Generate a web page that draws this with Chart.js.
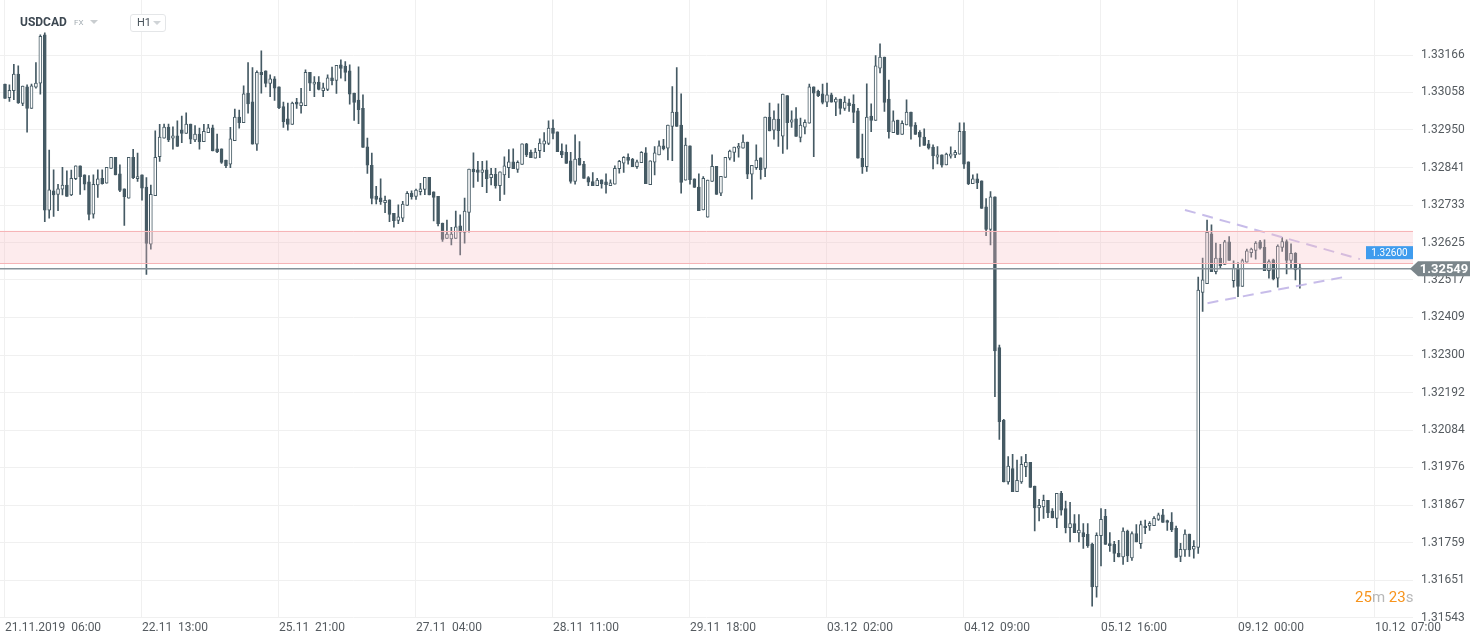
<!DOCTYPE html>
<html><head><meta charset="utf-8">
<script src="https://cdn.jsdelivr.net/npm/chart.js@4.4.1/dist/chart.umd.min.js"></script>
<style>
html,body{margin:0;padding:0;background:#fff;}
#wrap{position:relative;width:1482px;height:643px;overflow:hidden;}
#c{position:absolute;left:0;top:0;}
.t{position:absolute;font-family:Roboto,"Liberation Sans",sans-serif;white-space:nowrap;}
.tri{position:absolute;width:0;height:0;border-left:4px solid transparent;border-right:4px solid transparent;border-top:4px solid #c9cdd0;}
</style></head><body>
<div id="wrap">
<canvas id="c" width="1482" height="643"></canvas>
<div class="t" style="left:20px;top:15px;font-size:12px;font-weight:700;color:#3d4852;">USDCAD</div>
<div class="t" style="left:74px;top:18px;font-size:8px;color:#a4adb3;">FX</div>
<div class="tri" style="left:90px;top:20px;"></div>
<div style="position:absolute;left:130px;top:14px;width:34px;height:16px;border:1px solid #e4e6e8;border-radius:3px;background:#fff;"></div>
<div class="t" style="left:137px;top:16px;font-size:11px;color:#4a545c;">H1</div>
<div class="tri" style="left:153px;top:21px;border-top-color:#d0d4d7;"></div>
<div class="t" style="left:1355px;top:588px;font-size:15px;"><span style="color:#f7941d">25</span><span style="color:#b8b8b8">m </span><span style="color:#f7941d">23</span><span style="color:#b8b8b8">s</span></div>
</div>
<script>
// ---- DATA (USDCAD H1) ----
const opens = [1.33082,1.33043,1.33063,1.33111,1.33026,1.33074,1.33012,1.33073,1.33085,1.33224,1.32718,1.32774,1.32764,1.32779,1.32791,1.32762,1.32809,1.32846,1.32820,1.32800,1.32707,1.32791,1.32810,1.32796,1.32839,1.32871,1.32823,1.32780,1.32753,1.32871,1.32809,1.32820,1.32785,1.32620,1.32760,1.32873,1.32926,1.32958,1.32926,1.32933,1.32950,1.32940,1.32967,1.32921,1.32938,1.32916,1.32942,1.32956,1.32895,1.32895,1.32863,1.32851,1.32919,1.32987,1.32971,1.33056,1.33031,1.32909,1.33116,1.33120,1.33084,1.33097,1.33074,1.33017,1.32982,1.32966,1.33030,1.33020,1.33020,1.33116,1.33082,1.33088,1.33063,1.33067,1.33100,1.33093,1.33138,1.33134,1.33120,1.33056,1.33036,1.33012,1.32901,1.32848,1.32759,1.32754,1.32740,1.32748,1.32709,1.32689,1.32695,1.32732,1.32767,1.32758,1.32772,1.32778,1.32813,1.32771,1.32758,1.32681,1.32637,1.32635,1.32637,1.32673,1.32654,1.32712,1.32837,1.32835,1.32827,1.32835,1.32812,1.32822,1.32789,1.32820,1.32841,1.32858,1.32836,1.32850,1.32910,1.32885,1.32868,1.32890,1.32909,1.32911,1.32955,1.32944,1.32889,1.32885,1.32861,1.32801,1.32868,1.32851,1.32812,1.32801,1.32789,1.32806,1.32800,1.32789,1.32793,1.32838,1.32854,1.32871,1.32865,1.32844,1.32855,1.32884,1.32792,1.32857,1.32878,1.32904,1.32897,1.32960,1.33001,1.32964,1.32805,1.32904,1.32809,1.32785,1.32719,1.32698,1.32801,1.32845,1.32767,1.32813,1.32868,1.32885,1.32897,1.32897,1.32915,1.32822,1.32841,1.32869,1.32839,1.32987,1.32949,1.32981,1.32932,1.33049,1.32972,1.32982,1.32928,1.32958,1.32969,1.33074,1.33061,1.33054,1.33030,1.33051,1.33030,1.33039,1.33012,1.33028,1.33024,1.33005,1.32868,1.32844,1.32990,1.32977,1.33128,1.33160,1.33039,1.32942,1.32978,1.32937,1.32964,1.33001,1.32964,1.32943,1.32929,1.32910,1.32900,1.32871,1.32878,1.32849,1.32874,1.32878,1.32880,1.32946,1.32858,1.32795,1.32809,1.32803,1.32728,1.32663,1.32757,1.32322,1.32112,1.31934,1.31973,1.31906,1.31934,1.31978,1.31991,1.31922,1.31859,1.31862,1.31881,1.31850,1.31829,1.31901,1.31857,1.31802,1.31814,1.31787,1.31788,1.31783,1.31755,1.31631,1.31779,1.31835,1.31756,1.31754,1.31728,1.31718,1.31792,1.31715,1.31785,1.31756,1.31807,1.31807,1.31808,1.31826,1.31839,1.31823,1.31818,1.31800,1.31719,1.31738,1.31784,1.31740,1.31745,1.32481,1.32506,1.32650,1.32541,1.32580,1.32562,1.32627,1.32515,1.32551,1.32498,1.32568,1.32596,1.32602,1.32627,1.32611,1.32544,1.32575,1.32522,1.32611,1.32628,1.32573,1.32594,1.32551];
const highs = [1.33082,1.33080,1.33139,1.33135,1.33076,1.33080,1.33082,1.33144,1.33224,1.33230,1.32892,1.32835,1.32793,1.32842,1.32832,1.32834,1.32846,1.32846,1.32820,1.32818,1.32820,1.32835,1.32835,1.32842,1.32871,1.32871,1.32849,1.32780,1.32871,1.32894,1.32883,1.32820,1.32812,1.32791,1.32947,1.32966,1.32967,1.32967,1.32959,1.32976,1.32990,1.32999,1.32967,1.32962,1.32955,1.32966,1.32966,1.32964,1.32938,1.32895,1.32863,1.32957,1.33010,1.33007,1.33077,1.33144,1.33130,1.33120,1.33178,1.33120,1.33109,1.33104,1.33074,1.33030,1.33027,1.33030,1.33041,1.33070,1.33123,1.33116,1.33104,1.33104,1.33085,1.33109,1.33131,1.33136,1.33152,1.33147,1.33138,1.33056,1.33132,1.33051,1.32926,1.32883,1.32787,1.32809,1.32759,1.32748,1.32709,1.32734,1.32744,1.32772,1.32774,1.32779,1.32796,1.32813,1.32813,1.32771,1.32758,1.32681,1.32690,1.32669,1.32716,1.32705,1.32753,1.32837,1.32884,1.32859,1.32859,1.32861,1.32839,1.32839,1.32829,1.32872,1.32893,1.32895,1.32861,1.32910,1.32911,1.32892,1.32897,1.32924,1.32942,1.32976,1.32979,1.32944,1.32910,1.32907,1.32885,1.32936,1.32916,1.32859,1.32815,1.32827,1.32810,1.32806,1.32823,1.32806,1.32846,1.32862,1.32873,1.32881,1.32868,1.32863,1.32887,1.32899,1.32861,1.32902,1.32918,1.32923,1.32964,1.33075,1.33130,1.33054,1.32926,1.32904,1.32809,1.32823,1.32815,1.32805,1.32878,1.32845,1.32816,1.32871,1.32892,1.32900,1.32911,1.32936,1.32915,1.32848,1.32907,1.32869,1.32987,1.33027,1.33005,1.33025,1.33053,1.33049,1.33005,1.33014,1.32984,1.32979,1.33082,1.33074,1.33065,1.33082,1.33085,1.33056,1.33043,1.33039,1.33046,1.33039,1.33051,1.33012,1.32938,1.33083,1.33025,1.33164,1.33198,1.33160,1.33094,1.33005,1.32978,1.32976,1.33037,1.33001,1.32971,1.32948,1.32953,1.32920,1.32907,1.32902,1.32878,1.32883,1.32901,1.32891,1.32970,1.32970,1.32858,1.32820,1.32823,1.32803,1.32752,1.32772,1.32757,1.32329,1.32115,1.32007,1.32014,1.31997,1.32007,1.32014,1.31991,1.31922,1.31884,1.31896,1.31881,1.31857,1.31901,1.31907,1.31879,1.31875,1.31840,1.31840,1.31814,1.31814,1.31758,1.31787,1.31857,1.31855,1.31788,1.31763,1.31766,1.31802,1.31795,1.31790,1.31811,1.31821,1.31824,1.31820,1.31834,1.31844,1.31855,1.31824,1.31846,1.31807,1.31757,1.31796,1.31784,1.31765,1.32525,1.32580,1.32690,1.32676,1.32623,1.32620,1.32631,1.32642,1.32572,1.32567,1.32577,1.32606,1.32609,1.32628,1.32631,1.32633,1.32575,1.32577,1.32618,1.32639,1.32633,1.32621,1.32596,1.32563];
const lows = [1.33041,1.33032,1.33037,1.33026,1.33020,1.32943,1.33012,1.33070,1.33053,1.32685,1.32695,1.32700,1.32717,1.32762,1.32758,1.32760,1.32806,1.32764,1.32777,1.32690,1.32695,1.32755,1.32793,1.32796,1.32839,1.32820,1.32772,1.32674,1.32753,1.32809,1.32801,1.32747,1.32533,1.32606,1.32760,1.32859,1.32926,1.32916,1.32894,1.32902,1.32913,1.32940,1.32910,1.32916,1.32894,1.32916,1.32942,1.32889,1.32884,1.32853,1.32841,1.32841,1.32919,1.32955,1.32971,1.32998,1.32909,1.32891,1.33056,1.33074,1.33046,1.33035,1.33011,1.32957,1.32949,1.32966,1.33012,1.32998,1.33020,1.33063,1.33046,1.33065,1.33046,1.33063,1.33080,1.33055,1.33099,1.33091,1.33024,1.32977,1.32968,1.32899,1.32824,1.32736,1.32736,1.32735,1.32711,1.32685,1.32669,1.32679,1.32685,1.32732,1.32750,1.32749,1.32762,1.32763,1.32762,1.32687,1.32673,1.32628,1.32637,1.32618,1.32637,1.32589,1.32623,1.32655,1.32784,1.32801,1.32786,1.32769,1.32791,1.32782,1.32746,1.32764,1.32812,1.32838,1.32827,1.32850,1.32873,1.32870,1.32868,1.32870,1.32887,1.32907,1.32924,1.32887,1.32870,1.32853,1.32796,1.32793,1.32848,1.32810,1.32789,1.32789,1.32789,1.32782,1.32767,1.32789,1.32793,1.32825,1.32827,1.32851,1.32844,1.32839,1.32855,1.32795,1.32792,1.32820,1.32878,1.32892,1.32863,1.32861,1.32960,1.32767,1.32805,1.32793,1.32784,1.32717,1.32719,1.32698,1.32801,1.32764,1.32760,1.32813,1.32863,1.32859,1.32871,1.32897,1.32809,1.32750,1.32836,1.32808,1.32815,1.32947,1.32923,1.32902,1.32882,1.32894,1.32957,1.32931,1.32915,1.32938,1.32969,1.32873,1.33046,1.33025,1.33017,1.33030,1.32991,1.32995,1.33006,1.33003,1.32971,1.32868,1.32824,1.32830,1.32945,1.32977,1.33114,1.33003,1.32926,1.32942,1.32936,1.32937,1.32964,1.32923,1.32937,1.32902,1.32905,1.32894,1.32837,1.32852,1.32842,1.32849,1.32868,1.32870,1.32880,1.32839,1.32792,1.32795,1.32780,1.32723,1.32645,1.32618,1.32180,1.32057,1.31934,1.31928,1.31906,1.31906,1.31930,1.31949,1.31918,1.31793,1.31822,1.31829,1.31831,1.31830,1.31802,1.31838,1.31787,1.31761,1.31788,1.31761,1.31742,1.31745,1.31576,1.31602,1.31692,1.31754,1.31734,1.31704,1.31718,1.31696,1.31704,1.31708,1.31761,1.31742,1.31785,1.31794,1.31808,1.31823,1.31817,1.31794,1.31791,1.31716,1.31704,1.31719,1.31719,1.31714,1.31728,1.32426,1.32506,1.32541,1.32534,1.32551,1.32562,1.32573,1.32496,1.32469,1.32498,1.32568,1.32583,1.32577,1.32606,1.32544,1.32522,1.32517,1.32496,1.32599,1.32534,1.32551,1.32517,1.32493];
const closes = [1.33041,1.33064,1.33111,1.33028,1.33076,1.33012,1.33077,1.33085,1.33220,1.32718,1.32777,1.32762,1.32780,1.32791,1.32758,1.32810,1.32846,1.32815,1.32793,1.32706,1.32793,1.32809,1.32795,1.32842,1.32871,1.32820,1.32775,1.32757,1.32871,1.32812,1.32815,1.32782,1.32622,1.32764,1.32871,1.32929,1.32958,1.32921,1.32933,1.32902,1.32940,1.32967,1.32923,1.32938,1.32916,1.32946,1.32956,1.32889,1.32886,1.32856,1.32847,1.32924,1.32987,1.32971,1.33054,1.33025,1.32909,1.33116,1.33109,1.33084,1.33097,1.33070,1.33014,1.32974,1.32966,1.33027,1.33024,1.33029,1.33116,1.33085,1.33088,1.33067,1.33071,1.33100,1.33092,1.33136,1.33127,1.33116,1.33053,1.33029,1.33008,1.32899,1.32848,1.32752,1.32749,1.32743,1.32747,1.32706,1.32688,1.32699,1.32736,1.32767,1.32757,1.32776,1.32780,1.32813,1.32762,1.32755,1.32679,1.32634,1.32649,1.32649,1.32670,1.32655,1.32716,1.32837,1.32829,1.32827,1.32835,1.32809,1.32822,1.32789,1.32829,1.32846,1.32858,1.32838,1.32856,1.32910,1.32878,1.32870,1.32886,1.32912,1.32918,1.32955,1.32940,1.32887,1.32878,1.32853,1.32801,1.32866,1.32848,1.32810,1.32799,1.32789,1.32805,1.32794,1.32792,1.32797,1.32839,1.32859,1.32871,1.32862,1.32844,1.32858,1.32885,1.32795,1.32861,1.32884,1.32904,1.32896,1.32964,1.33001,1.32960,1.32798,1.32906,1.32806,1.32784,1.32717,1.32810,1.32805,1.32845,1.32764,1.32816,1.32871,1.32889,1.32900,1.32903,1.32915,1.32822,1.32848,1.32863,1.32835,1.32987,1.32947,1.32981,1.32948,1.33053,1.32971,1.32979,1.32931,1.32964,1.32972,1.33074,1.33056,1.33049,1.33029,1.33051,1.33030,1.33039,1.33012,1.33030,1.33020,1.33000,1.32868,1.32844,1.32987,1.32977,1.33135,1.33160,1.33029,1.32945,1.32976,1.32937,1.32969,1.33001,1.32960,1.32937,1.32929,1.32905,1.32897,1.32875,1.32878,1.32848,1.32880,1.32881,1.32885,1.32946,1.32851,1.32795,1.32809,1.32797,1.32723,1.32663,1.32757,1.32312,1.32108,1.31934,1.31980,1.31906,1.31939,1.31985,1.31991,1.31918,1.31859,1.31867,1.31881,1.31845,1.31830,1.31901,1.31853,1.31802,1.31814,1.31788,1.31795,1.31776,1.31750,1.31631,1.31780,1.31826,1.31754,1.31750,1.31728,1.31718,1.31792,1.31721,1.31785,1.31761,1.31811,1.31802,1.31815,1.31829,1.31839,1.31817,1.31817,1.31796,1.31716,1.31740,1.31784,1.31738,1.31748,1.32488,1.32517,1.32654,1.32541,1.32580,1.32558,1.32627,1.32573,1.32551,1.32498,1.32573,1.32601,1.32606,1.32623,1.32609,1.32544,1.32570,1.32520,1.32615,1.32628,1.32573,1.32594,1.32546,1.32549];

const xTickIndex  = [0, 31, 62, 93, 124, 155, 186, 217, 248, 279, 310];
const xTickLabels = ['21.11.2019  06:00','22.11  13:00','25.11  21:00','27.11  04:00','28.11  11:00','29.11  18:00','03.12  02:00','04.12  09:00','05.12  16:00','09.12  00:00','10.12  07:00'];
const yTickValues = [1.31543,1.31651,1.31759,1.31867,1.31976,1.32084,1.32192,1.32300,1.32409,1.32517,1.32625,1.32733,1.32841,1.32950,1.33058,1.33166];
const yTickLabels = ['1.31543','1.31651','1.31759','1.31867','1.31976','1.32084','1.32192','1.32300','1.32409','1.32517','1.32625','1.32733','1.32841','1.32950','1.33058','1.33166'];

const zoneTop = 1.32659, zoneBottom = 1.32565;
const alertPrice = 1.32600;
const lastPrice = 1.32549;
const upperTrendX = [267.0, 306.6], upperTrendY = [1.32719, 1.32577];
const lowerTrendX = [272.1, 303.2], lowerTrendY = [1.32450, 1.32526];
const xMin = -1.131, xMax = 318.6, yMin = 1.31543, yMax = 1.333247;

// ---- CHART ----
const candleColor = '#455a64';
const bodies = opens.map((o, i) => ({ x: i, y: [o, closes[i]] }));
const wicks  = lows.map((l, i) => ({ x: i, y: [l, highs[i]] }));
const upper = upperTrendX.map((x, i) => ({ x, y: upperTrendY[i] }));
const lower = lowerTrendX.map((x, i) => ({ x, y: lowerTrendY[i] }));

const overlay = {
  id: 'overlay',
  afterDatasetsDraw(chart) {
    const { ctx, chartArea: a, scales: { y } } = chart;
    const yt = y.getPixelForValue(zoneTop), yb = y.getPixelForValue(zoneBottom);
    ctx.save();
    ctx.fillStyle = 'rgba(250,188,194,0.30)';
    ctx.fillRect(a.left, yt, a.right - a.left, yb - yt);
    ctx.strokeStyle = '#f6b4b7';
    ctx.lineWidth = 1;
    ctx.beginPath();
    ctx.moveTo(a.left, Math.round(yt) + 0.5); ctx.lineTo(a.right, Math.round(yt) + 0.5);
    ctx.moveTo(a.left, Math.round(yb) + 0.5); ctx.lineTo(a.right, Math.round(yb) + 0.5);
    ctx.stroke();
    const yp = y.getPixelForValue(lastPrice);
    ctx.strokeStyle = '#86929a';
    ctx.lineWidth = 1.5;
    ctx.beginPath();
    ctx.moveTo(a.left, yp); ctx.lineTo(a.right, yp);
    ctx.stroke();
    ctx.restore();
  },
  afterDraw(chart) {
    const { ctx, chartArea: a, scales: { y } } = chart;
    ctx.save();
    const ya = y.getPixelForValue(alertPrice) + 1.5;
    ctx.fillStyle = '#3f9cee';
    ctx.fillRect(a.right - 47, ya - 6.5, 47, 13);
    ctx.fillStyle = '#ffffff';
    ctx.font = '10px Roboto, "Liberation Sans", sans-serif';
    ctx.textAlign = 'center';
    ctx.textBaseline = 'middle';
    ctx.fillText('1.32600', a.right - 23.5, ya + 0.5);
    const yp = y.getPixelForValue(lastPrice);
    const x0 = a.right - 3;
    ctx.fillStyle = '#7b868b';
    ctx.beginPath();
    ctx.moveTo(x0, yp);
    ctx.lineTo(x0 + 8, yp - 7.5);
    ctx.lineTo(x0 + 60, yp - 7.5);
    ctx.lineTo(x0 + 60, yp + 7.5);
    ctx.lineTo(x0 + 8, yp + 7.5);
    ctx.closePath();
    ctx.fill();
    ctx.fillStyle = '#ffffff';
    ctx.font = 'bold 13px Roboto, "Liberation Sans", sans-serif';
    ctx.fillText('1.32549', x0 + 34, yp + 0.5);
    ctx.restore();
  }
};

new Chart(document.getElementById('c'), {
  type: 'bar',
  data: {
    datasets: [
      { type: 'line', data: upper, borderColor: 'rgba(196,184,232,0.95)', borderWidth: 2, borderDash: [11, 7], pointRadius: 0, order: 1 },
      { type: 'line', data: lower, borderColor: 'rgba(196,184,232,0.95)', borderWidth: 2, borderDash: [11, 7], pointRadius: 0, order: 1 },
      { data: bodies, barThickness: 3, grouped: false, minBarLength: 1, borderWidth: 1, borderSkipped: false,
        borderColor: candleColor,
        backgroundColor: (c) => (closes[c.dataIndex] >= opens[c.dataIndex] ? '#ffffff' : candleColor), order: 2 },
      { data: wicks, barThickness: 1, grouped: false, backgroundColor: candleColor, borderWidth: 0, order: 3 }
    ]
  },
  options: {
    responsive: false,
    animation: false,
    events: [],
    layout: { padding: 0 },
    plugins: { legend: { display: false }, tooltip: { enabled: false } },
    scales: {
      x: {
        type: 'linear', min: xMin, max: xMax, offset: false,
        grid: { offset: false, color: '#f0f0f0', drawTicks: false },
        border: { display: false },
        afterBuildTicks: (s) => { s.ticks = xTickIndex.map(v => ({ value: v })); },
        afterFit: (s) => { s.height = 25.5; s.paddingLeft = 0; s.paddingRight = 0; },
        ticks: { autoSkip: false, maxRotation: 0, align: 'start', padding: 3, color: '#555b60',
          font: { family: 'Roboto, "Liberation Sans", sans-serif', size: 12 },
          callback: (v, i) => xTickLabels[i] }
      },
      y: {
        type: 'linear', position: 'right', min: yMin, max: yMax, beginAtZero: false,
        grid: { color: '#f0f0f0', drawTicks: false },
        border: { display: false },
        afterBuildTicks: (s) => { s.ticks = yTickValues.map(v => ({ value: v })); },
        afterFit: (s) => { s.width = 69; s.paddingTop = 0; s.paddingBottom = 0; },
        ticks: { padding: 8, color: '#555b60',
          font: { family: 'Roboto, "Liberation Sans", sans-serif', size: 12 },
          callback: (v, i) => yTickLabels[i] }
      }
    }
  },
  plugins: [overlay]
});
</script>
</body></html>
